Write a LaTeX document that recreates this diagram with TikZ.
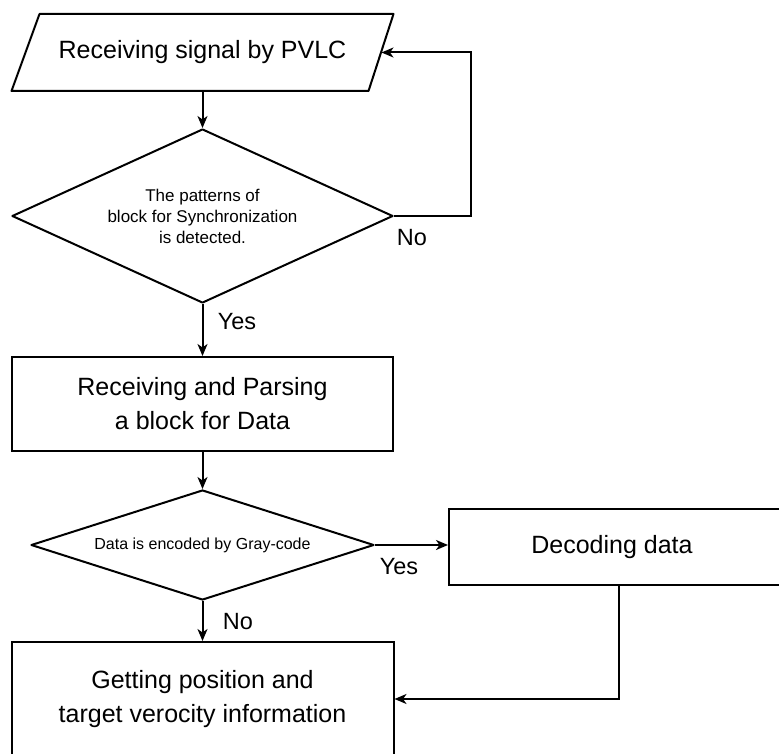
\documentclass[tikz,border=0pt]{standalone}
\usepackage{fontspec}
\setmainfont{Liberation Sans}
\usetikzlibrary{shapes.geometric,arrows.meta,calc}
\newcommand\bigfnt{\fontsize{25}{34}\selectfont}
\newcommand\midfnt{\fontsize{17}{21}\selectfont}
\newcommand\smlfnt{\fontsize{16}{19}\selectfont}
\newcommand\lblfnt{\fontsize{23.5}{28}\selectfont}
\begin{document}
\begin{tikzpicture}[x=1pt,y=-1pt,line width=2pt,
  box/.style={draw,rectangle,align=center,font=\bigfnt,inner sep=0pt},
  dia/.style={draw,diamond,align=center,inner sep=0pt,line join=round},
  lbl/.style={font=\lblfnt,inner sep=0pt},
  arr/.style={-{Stealth[length=12pt,width=10pt,inset=3.5pt]}}]
\useasboundingbox (0,0) rectangle (779,754);
% parallelogram
\node[rectangle,inner sep=0pt,minimum width=380pt,minimum height=75pt,font=\bigfnt] (para) at (202.5,52.5) {Receiving signal by PVLC};
\draw[line join=round] (para.south west) -- ($(para.north west)+(28,0)$) -- (para.north east) -- ($(para.south east)+(-25,0)$) -- cycle;
% first decision
\node[dia,aspect=2.19,minimum width=381pt,minimum height=174pt,font=\midfnt] (d1) at (202.5,216) {The patterns of\\block for Synchronization\\is detected.};
% receiving block
\node[box,minimum width=381pt,minimum height=94pt] (rx) at (202.5,404) {Receiving and Parsing\\a block for Data};
% second decision
\node[dia,aspect=3.12,minimum width=343pt,minimum height=110pt,font=\smlfnt] (d2) at (202.5,545) {Data is encoded by Gray-code};
% decoding
\node[box,minimum width=340pt,minimum height=76pt] (dec) at (619,547) {\hspace*{-14pt}Decoding data};
% final
\node[box,minimum width=382pt,minimum height=114pt] (fin) at (202.5,699) {Getting position and\\target verocity information};
% labels
\node[lbl] (no1) at (412,238) {No};
\node[lbl] (yes1) at (237,322) {Yes};
\node[lbl] (yes2) at (399,567) {Yes};
\node[lbl] (no2) at (238,622) {No};
% connectors
\draw[arr] (para.south) -- (d1.north);
\draw[arr] (d1.east) -- ++(77,0) |- ($(para.east)+(-12,0)$);
\draw[arr] (d1.south) -- (rx.north);
\draw[arr] (rx.south) -- (d2.north);
\draw[arr] (d2.east) -- (dec.west |- d2.east);
\draw[arr] (d2.south) -- (fin.north);
\draw[arr] (dec.south) |- (fin.east);
\end{tikzpicture}
\end{document}
